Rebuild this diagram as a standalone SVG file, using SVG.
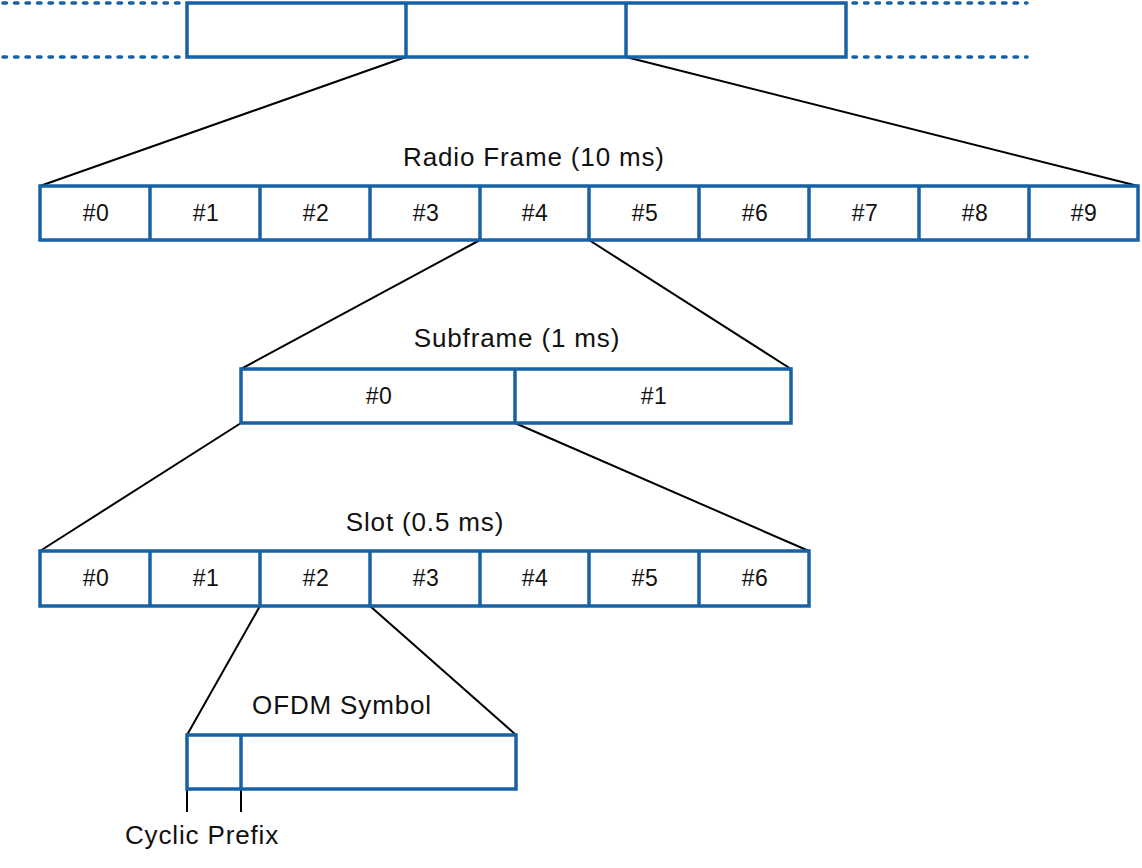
<svg xmlns="http://www.w3.org/2000/svg" width="1142" height="868" viewBox="0 0 1142 868">
<style>
.box{fill:#fff;stroke:#1762a7;stroke-width:3.5}
.div{stroke:#1762a7;stroke-width:3.5}
.dot{stroke:#1762a7;stroke-width:3.5;stroke-dasharray:3.5 8;stroke-linecap:round}
.con{stroke:#000;stroke-width:2;fill:none}
.t{font-family:"Liberation Sans",Arial,sans-serif;font-size:26px;letter-spacing:0.85px;fill:#111;text-anchor:middle}
.c{font-family:"Liberation Sans",Arial,sans-serif;font-size:23px;letter-spacing:0.5px;fill:#111;text-anchor:middle}
</style>
<rect width="1142" height="868" fill="#fff"/>
<g id="connectors">
<line class="con" x1="406" y1="57" x2="40" y2="186"/>
<line class="con" x1="626" y1="57" x2="1138" y2="186"/>
<line class="con" x1="480" y1="240" x2="241" y2="369"/>
<line class="con" x1="589" y1="240" x2="791" y2="369"/>
<line class="con" x1="241" y1="423" x2="40" y2="551"/>
<line class="con" x1="515" y1="423" x2="809" y2="551"/>
<line class="con" x1="260" y1="606" x2="187" y2="735"/>
<line class="con" x1="370" y1="606" x2="516" y2="735"/>
<line class="con" x1="187" y1="789" x2="187" y2="812"/>
<line class="con" x1="241" y1="789" x2="241" y2="812"/>
</g>
<g id="top-stream">
<line class="dot" x1="3" y1="3" x2="183" y2="3"/>
<line class="dot" x1="3" y1="57" x2="183" y2="57"/>
<line class="dot" x1="853" y1="3" x2="1027" y2="3"/>
<line class="dot" x1="853" y1="57" x2="1027" y2="57"/>
<rect class="box" x="187" y="3" width="659" height="54"/>
<line class="div" x1="406" y1="3" x2="406" y2="57"/>
<line class="div" x1="626" y1="3" x2="626" y2="57"/>
</g>
<g id="radio-frame">
<text class="t" x="534" y="166">Radio Frame (10 ms)</text>
<rect class="box" x="40" y="186" width="1098" height="54"/>
<line class="div" x1="150" y1="186" x2="150" y2="240"/>
<line class="div" x1="260" y1="186" x2="260" y2="240"/>
<line class="div" x1="370" y1="186" x2="370" y2="240"/>
<line class="div" x1="480" y1="186" x2="480" y2="240"/>
<line class="div" x1="589" y1="186" x2="589" y2="240"/>
<line class="div" x1="699" y1="186" x2="699" y2="240"/>
<line class="div" x1="809" y1="186" x2="809" y2="240"/>
<line class="div" x1="919" y1="186" x2="919" y2="240"/>
<line class="div" x1="1029" y1="186" x2="1029" y2="240"/>
<text class="c" x="96" y="221">#0</text>
<text class="c" x="206" y="221">#1</text>
<text class="c" x="316" y="221">#2</text>
<text class="c" x="426" y="221">#3</text>
<text class="c" x="535" y="221">#4</text>
<text class="c" x="645" y="221">#5</text>
<text class="c" x="755" y="221">#6</text>
<text class="c" x="865" y="221">#7</text>
<text class="c" x="975" y="221">#8</text>
<text class="c" x="1084" y="221">#9</text>
</g>
<g id="subframe">
<text class="t" x="517" y="347">Subframe (1 ms)</text>
<rect class="box" x="241" y="369" width="550" height="54"/>
<line class="div" x1="515" y1="369" x2="515" y2="423"/>
<text class="c" x="379" y="404">#0</text>
<text class="c" x="654" y="404">#1</text>
</g>
<g id="slot">
<text class="t" x="425" y="531">Slot (0.5 ms)</text>
<rect class="box" x="40" y="551" width="769" height="55"/>
<line class="div" x1="150" y1="551" x2="150" y2="606"/>
<line class="div" x1="260" y1="551" x2="260" y2="606"/>
<line class="div" x1="370" y1="551" x2="370" y2="606"/>
<line class="div" x1="480" y1="551" x2="480" y2="606"/>
<line class="div" x1="589" y1="551" x2="589" y2="606"/>
<line class="div" x1="699" y1="551" x2="699" y2="606"/>
<text class="c" x="96" y="586">#0</text>
<text class="c" x="206" y="586">#1</text>
<text class="c" x="316" y="586">#2</text>
<text class="c" x="426" y="586">#3</text>
<text class="c" x="535" y="586">#4</text>
<text class="c" x="645" y="586">#5</text>
<text class="c" x="755" y="586">#6</text>
</g>
<g id="ofdm-symbol">
<text class="t" x="342" y="714">OFDM Symbol</text>
<rect class="box" x="187" y="735" width="329" height="54"/>
<line class="div" x1="241" y1="735" x2="241" y2="789"/>
</g>
<g id="cyclic-prefix">
<text class="t" x="202" y="844">Cyclic Prefix</text>
</g>
</svg>
